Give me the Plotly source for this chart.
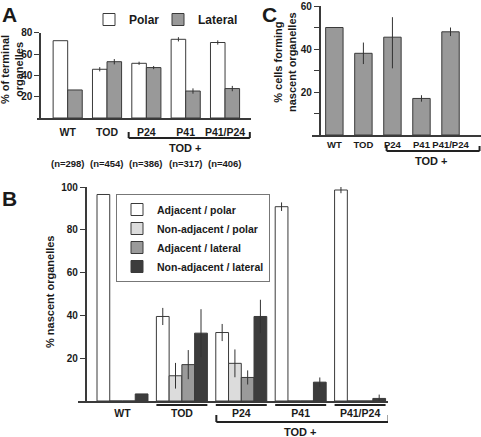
import plotly.graph_objects as go

W, H = 481, 437

# ---------------- data ----------------
# Panel A
a_categories = ["WT", "TOD", "P24", "P41", "P41/P24"]
a_n_labels = ["(n=298)", "(n=454)", "(n=386)", "(n=317)", "(n=406)"]
a_polar = [72.5, 45.7, 51.3, 73.8, 70.8]
a_polar_err = [0, 2, 1.5, 2, 2]
a_lateral = [26.3, 52.8, 47.3, 25.3, 27.6]
a_lateral_err = [0, 2.5, 1.5, 2.5, 2.5]
a_ticks = [20, 40, 60, 80]

# Panel C
c_categories = ["WT", "TOD", "P24", "P41", "P41/P24"]
c_values = [50, 38, 45.5, 17, 48]
c_err_plus = [0, 5, 9.3, 1.5, 2]
c_err_minus = [0, 5, 14.5, 1.5, 2]
c_ticks = [10, 20, 30, 40, 50, 60]
c_ticktext = ["", "20", "", "40", "", "60"]

# Panel B
b_categories = ["WT", "TOD", "P24", "P41", "P41/P24"]
b_adj_polar = [96.5, 39.5, 32, 90.8, 98.6]
b_adj_polar_err = [0, 4, 4, 2, 1.5]
b_nonadj_polar = [0, 11.8, 17.6, 0, 0]
b_nonadj_polar_err = [0, 6, 6.5, 0, 0]
b_adj_lateral = [0, 17, 11, 0, 0]
b_adj_lateral_err = [0, 6.8, 3.3, 0, 0]
b_nonadj_lateral = [3.3, 31.7, 39.5, 8.8, 1.2]
b_nonadj_lateral_err = [0, 11.2, 7.8, 2.2, 1.8]
b_ticks = [20, 40, 60, 80, 100]

# ---------------- style ----------------
FONT = "Liberation Sans, Arial, sans-serif"
TXT = "#1a1a1a"
EDGE = "#3a3a3a"
ERR = "#333333"


def px(x):
    return x / W


def py(y):
    return 1 - y / H


def err(arr, arrm=None):
    d = dict(type="data", array=arr, color=ERR, thickness=1, width=0, visible=True)
    if arrm is not None:
        d["arrayminus"] = arrm
        d["symmetric"] = False
    return d


fig = go.Figure()

# Panel A
wA = 0.37
fig.add_trace(go.Bar(x=a_categories, y=a_polar, name="Polar", width=wA, offset=-wA,
                     marker=dict(color="white", line=dict(color=EDGE, width=1)),
                     error_y=err(a_polar_err), xaxis="x", yaxis="y", legend="legend"))
fig.add_trace(go.Bar(x=a_categories, y=a_lateral, name="Lateral", width=wA, offset=0,
                     marker=dict(color="#999999", line=dict(color=EDGE, width=1)),
                     error_y=err(a_lateral_err), xaxis="x", yaxis="y", legend="legend3"))

# Panel C
wC = 0.6
fig.add_trace(go.Bar(x=c_categories, y=c_values, width=wC, offset=-wC / 2, showlegend=False,
                     marker=dict(color="#999999", line=dict(color=EDGE, width=1)),
                     error_y=err(c_err_plus, c_err_minus), xaxis="x2", yaxis="y2"))

# Panel B
wB = 0.2146
b_series = [
    ("Adjacent / polar", b_adj_polar, b_adj_polar_err, "white"),
    ("Non-adjacent / polar", b_nonadj_polar, b_nonadj_polar_err, "#dcdcdc"),
    ("Adjacent / lateral", b_adj_lateral, b_adj_lateral_err, "#9a9a9a"),
    ("Non-adjacent / lateral", b_nonadj_lateral, b_nonadj_lateral_err, "#3c3c3c"),
]
for i, (name, vals, e, col) in enumerate(b_series):
    fig.add_trace(go.Bar(x=b_categories, y=vals, name=name, width=wB, offset=-2 * wB + i * wB,
                         marker=dict(color=col, line=dict(color=EDGE, width=1)),
                         error_y=err(e), xaxis="x3", yaxis="y3", legend="legend2"))

tickfont = dict(family=FONT, size=10, color=TXT, weight="bold")
xcommon = dict(type="category", showline=True, linecolor=EDGE, linewidth=1.5, ticks="",
               showgrid=False, zeroline=False, tickangle=0,
               tickfont=dict(family=FONT, size=10.5, color=TXT, weight="bold"))
ycommon = dict(showline=True, linecolor=EDGE, linewidth=1.5, ticks="outside", ticklen=5,
               tickwidth=1, tickcolor=EDGE, showgrid=False, zeroline=False, tickfont=tickfont)
legfont = dict(family=FONT, size=12, color=TXT, weight="bold")

fig.update_layout(
    width=W, height=H, margin=dict(l=0, r=0, t=0, b=0, autoexpand=False),
    paper_bgcolor="white", plot_bgcolor="rgba(0,0,0,0)",
    barmode="overlay",
    font=dict(family=FONT, color=TXT),
    # A
    xaxis=dict(xcommon, domain=[px(37), px(251)], range=[-0.78, 4.66], anchor="y",
               ticklabelstandoff=4),
    yaxis=dict(ycommon, domain=[py(118), py(32.7)], range=[0, 80], tickvals=a_ticks,
               anchor="free", position=px(40)),
    # C
    xaxis2=dict(xcommon, domain=[px(312), px(481)], range=[-0.77, 5.05], anchor="y2",
                ticklabelstandoff=0, tickfont=dict(family=FONT, size=9.5, color=TXT, weight="bold")),
    yaxis2=dict(ycommon, domain=[py(135), py(6)], range=[0, 60], tickvals=c_ticks,
                ticktext=c_ticktext, anchor="free", position=px(319.5)),
    # B
    xaxis3=dict(xcommon, domain=[px(78), px(388)], range=[-0.749, 4.47], anchor="y3",
                ticklabelstandoff=2),
    yaxis3=dict(ycommon, domain=[py(401), py(187)], range=[0, 100], tickvals=b_ticks,
                anchor="free", position=px(85.7)),
    legend=dict(orientation="h", x=px(89), y=py(5), xanchor="left", yanchor="top",
                font=legfont, bgcolor="rgba(0,0,0,0)", itemwidth=30),
    legend3=dict(orientation="h", x=px(158), y=py(5), xanchor="left", yanchor="top",
                 font=legfont, bgcolor="rgba(0,0,0,0)", itemwidth=30),
    legend2=dict(x=px(116), y=py(194), xanchor="left", yanchor="top",
                 font=dict(family=FONT, size=10.5, color=TXT, weight="bold"),
                 bgcolor="white", bordercolor="#777777", borderwidth=1, itemwidth=30),
)

ann = []
bold = lambda s: dict(family=FONT, size=s, color=TXT, weight="bold")
# Panel letters
ann.append(dict(text="A", x=px(0), y=py(1), xanchor="left", yanchor="top", font=bold(21)))
ann.append(dict(text="B", x=px(0), y=py(185), xanchor="left", yanchor="top", font=bold(21)))
ann.append(dict(text="C", x=px(260), y=py(1), xanchor="left", yanchor="top", font=bold(21)))
# y titles
ann.append(dict(text="% of terminal<br>organelles", x=px(12), y=py(70), textangle=-90,
                xanchor="center", yanchor="middle", font=bold(11)))
ann.append(dict(text="% cells forming<br>nascent organelles", x=px(285), y=py(62), textangle=-90,
                xanchor="center", yanchor="middle", font=bold(11)))
ann.append(dict(text="% nascent organelles", x=px(50), y=py(292), textangle=-90,
                xanchor="center", yanchor="middle", font=bold(11)))
# n labels under panel A
for c, n in zip(a_categories, a_n_labels):
    ann.append(dict(text=n, x=c, xref="x", y=py(163), yref="paper", xanchor="center",
                    yanchor="middle", font=bold(9.5)))
# TOD + labels
ann.append(dict(text="TOD +", x=3.0, xref="x", y=py(148), yref="paper", xanchor="center",
                yanchor="middle", font=bold(11)))
ann.append(dict(text="TOD +", x=3.35, xref="x2", y=py(161), yref="paper", xanchor="center",
                yanchor="middle", font=bold(11)))
ann.append(dict(text="TOD +", x=3.0, xref="x3", y=py(432), yref="paper", xanchor="center",
                yanchor="middle", font=bold(11)))
for a in ann:
    a.setdefault("xref", "paper")
    a.setdefault("yref", "paper")
    a["showarrow"] = False
fig.update_layout(annotations=ann)

shapes = []
line = dict(color="#222222", width=2)


def bracket(xref, x0, x1, ybar, ytop):
    shapes.append(dict(type="line", xref=xref, yref="paper", x0=x0, x1=x1, y0=py(ybar), y1=py(ybar), line=line))
    shapes.append(dict(type="line", xref=xref, yref="paper", x0=x0, x1=x0, y0=py(ybar), y1=py(ytop), line=line))
    shapes.append(dict(type="line", xref=xref, yref="paper", x0=x1, x1=x1, y0=py(ybar), y1=py(ytop), line=line))


bracket("x", 2 - 0.45, 4 + 0.63, 138, 132)
bracket("x2", 2 - 0.2, 4 + 1.0, 151, 146)
bracket("x3", 2 - 0.42, 4 + 0.48, 422, 415)
# group underlines in panel B
for i in range(1, 5):
    shapes.append(dict(type="line", xref="x3", yref="paper", x0=i - 2 * wB, x1=i + 2 * wB,
                       y0=py(405), y1=py(405), line=line))
fig.update_layout(shapes=shapes)

fig.write_html("out.html", config={"displayModeBar": False},
               post_script="document.body.style.margin='0px';")
